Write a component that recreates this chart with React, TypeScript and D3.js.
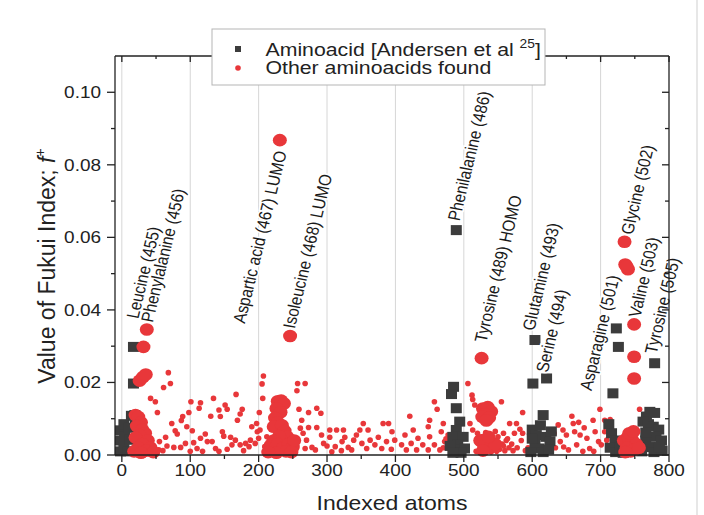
import React, { useEffect } from 'react';
import * as d3 from 'd3';

// [atom index, Fukui f+]
const refAtoms: [number, number][] = [
  [-2, 0.001], [-2, 0.004], [-2, 0.0068], [3, 0.0085], [4, 0.005], [3, 0.0022], [9, 0.001], [10, 0.0075],
  [14, 0.0108], [19, 0.011], [20, 0.0082], [12, 0.0042], [17, 0.0197], [17, 0.0298],
  [489, 0.062], [485, 0.0188], [482, 0.0168], [489, 0.0129], [494, 0.0092], [489, 0.0069], [484, 0.005],
  [499, 0.005], [491, 0.0028], [501, 0.0018], [486, 0.0014], [480, 0.0025], [496, 0.0006], [484, 0.0006],
  [604, 0.0317], [601, 0.0197], [621, 0.0211], [616, 0.011], [600, 0.007], [606, 0.0055], [612, 0.0082],
  [620, 0.005], [626, 0.0038], [604, 0.003], [610, 0.0018], [598, 0.0008], [616, 0.0008], [624, 0.0015],
  [628, 0.0065], [600, 0.0045],
  [723, 0.0349], [726, 0.0298], [718, 0.017], [779, 0.0253], [772, 0.0119], [779, 0.0116], [767, 0.0106],
  [712, 0.0085], [716, 0.006], [721, 0.004], [714, 0.002], [722, 0.0008], [729, 0.002], [733, 0.0006],
  [762, 0.0092], [770, 0.0085], [777, 0.0078], [785, 0.007], [781, 0.005], [789, 0.004], [766, 0.004],
  [772, 0.0022], [778, 0.0008], [790, 0.0012], [760, 0.001], [766, 0.0062], [786, 0.0022],
];

const otherAtoms: [number, number][] = [
  [68, 0.0227], [71, 0.0197], [61, 0.0186], [42, 0.0156], [49, 0.0147], [52, 0.0117], [101, 0.0147],
  [115, 0.0144], [113, 0.0129], [134, 0.0156], [167, 0.0167], [142, 0.0124], [151, 0.0138], [154, 0.0126],
  [130, 0.0107], [144, 0.0106], [176, 0.0126], [173, 0.0113], [169, 0.0096], [98, 0.0117], [89, 0.0106],
  [87, 0.0095], [73, 0.0087], [95, 0.0078], [78, 0.0067], [103, 0.0067], [81, 0.0058], [64, 0.0049],
  [55, 0.0037], [66, 0.0025], [76, 0.0021], [86, 0.0021], [93, 0.0032], [105, 0.0034], [110, 0.0018],
  [122, 0.0058], [125, 0.0037], [132, 0.0037], [115, 0.0046], [137, 0.0018], [147, 0.0064], [149, 0.0052],
  [159, 0.0049], [161, 0.0028], [154, 0.0016], [166, 0.0041], [173, 0.0028], [181, 0.0032], [186, 0.0023],
  [190, 0.0078], [188, 0.0041], [195, 0.0032], [54, 0.0014], [48, 0.0009], [198, 0.0064],
  [118, 0.001], [142, 0.001], [178, 0.0012], [100, 0.001], [60, 0.0012],
  [207, 0.0218], [205, 0.0196], [206, 0.0156], [201, 0.0117], [197, 0.0087], [202, 0.0069], [200, 0.0046],
  [212, 0.005], [209, 0.0023], [257, 0.0197], [268, 0.0197], [256, 0.0177], [259, 0.0126], [273, 0.0117],
  [285, 0.0129], [291, 0.0115], [263, 0.0096], [261, 0.0074], [273, 0.0076], [285, 0.0076], [265, 0.006],
  [270, 0.0041], [268, 0.0018], [278, 0.0021], [283, 0.0014], [292, 0.0055], [295, 0.0032], [304, 0.0069],
  [314, 0.0069], [324, 0.0069], [304, 0.0049], [300, 0.0025], [312, 0.0023], [322, 0.0037], [326, 0.0049],
  [331, 0.0021], [339, 0.0041], [343, 0.0055], [348, 0.0069], [353, 0.0087], [360, 0.0069], [351, 0.0032],
  [363, 0.0041], [358, 0.0018], [370, 0.0028], [375, 0.0049], [382, 0.0087], [390, 0.0087], [387, 0.0037],
  [395, 0.0064], [399, 0.0041], [380, 0.0018], [394, 0.0016], [321, 0.0012], [336, 0.0014], [307, 0.0009],
  [506, 0.0197], [512, 0.0165], [513, 0.0153], [516, 0.0138], [509, 0.0087], [513, 0.0069], [555, 0.0147],
  [586, 0.0117], [567, 0.0087], [577, 0.0087], [582, 0.0071], [574, 0.006], [421, 0.0107], [457, 0.0147],
  [461, 0.0126], [450, 0.0096], [470, 0.0087], [448, 0.0078], [426, 0.0069], [414, 0.0055], [467, 0.0064],
  [450, 0.005], [433, 0.0046], [423, 0.0032], [409, 0.0028], [440, 0.0028], [457, 0.0028], [472, 0.0037],
  [465, 0.0014], [431, 0.0014], [448, 0.0014], [416, 0.0014], [477, 0.0055],
  [520, 0.006], [526, 0.005], [532, 0.0062], [538, 0.005], [544, 0.0042], [550, 0.005], [556, 0.003],
  [562, 0.004], [522, 0.003], [530, 0.002], [536, 0.0032], [542, 0.002], [548, 0.001], [528, 0.0008],
  [540, 0.0008], [552, 0.0015], [560, 0.0012], [566, 0.002], [518, 0.001], [534, 0.004], [546, 0.0065],
  [558, 0.006], [570, 0.003], [578, 0.002], [584, 0.004], [564, 0.0045], [590, 0.0012], [572, 0.0012],
  [558, 0.0025], [470, 0.002], [474, 0.0045], [586, 0.006], [594, 0.002],
  [699, 0.0126], [689, 0.0096], [706, 0.0096], [714, 0.0098], [658, 0.0107], [660, 0.0087], [662, 0.0064],
  [638, 0.0083], [645, 0.0069], [650, 0.0055], [670, 0.0055], [680, 0.0046], [692, 0.0064], [697, 0.0037],
  [701, 0.0028], [684, 0.0018], [665, 0.0028], [653, 0.0014], [641, 0.0037], [757, 0.0126], [706, 0.0064],
  [709, 0.0041], [628, 0.004], [634, 0.002], [632, 0.006], [674, 0.001], [690, 0.001], [646, 0.0022],
  [676, 0.0075], [668, 0.009],
];

const highlightAtoms: [number, number][] = [
  [36.5, 0.0346], [31.6, 0.0298], [26, 0.0205], [31, 0.0215], [35, 0.0222],
  [20, 0.011], [24, 0.0105], [28, 0.009], [22, 0.008], [30, 0.007], [34, 0.006], [26, 0.0055], [20, 0.0048],
  [38, 0.004], [30, 0.003], [24, 0.002], [42, 0.002], [36, 0.0012], [18, 0.001], [46, 0.0008], [28, 0.0006],
  [231, 0.0868], [246, 0.0328],
  [228, 0.0148], [233, 0.015], [237, 0.0142], [226, 0.0128], [232, 0.0118], [224, 0.0102], [228, 0.009],
  [222, 0.0078], [234, 0.0082], [238, 0.0066], [242, 0.005], [230, 0.0052], [222, 0.004], [218, 0.0028],
  [228, 0.003], [236, 0.002], [244, 0.003], [250, 0.0022], [252, 0.004], [240, 0.001], [226, 0.0006],
  [214, 0.0008], [248, 0.0008],
  [526, 0.0267], [528, 0.0128], [535, 0.0132], [540, 0.012], [531, 0.0112], [527, 0.0105], [537, 0.0103],
  [533, 0.0095], [524, 0.004], [532, 0.003], [540, 0.0022], [528, 0.0012], [546, 0.003], [536, 0.005],
  [735, 0.0588], [736, 0.0525], [740, 0.0512], [738, 0.052], [749, 0.036], [749, 0.0271], [749, 0.0211],
  [734, 0.004], [740, 0.005], [746, 0.0042], [752, 0.003], [738, 0.002], [744, 0.001], [750, 0.0015],
  [756, 0.002], [742, 0.006], [748, 0.0065], [736, 0.0008],
];

const labels: { text: string; atom: number; value: number }[] = [
  { text: 'Leucine (455)', atom: 15, value: 0.0377 },
  { text: 'Phenylalanine (456)', atom: 36.5, value: 0.0367 },
  { text: 'Aspartic acid (467) LUMO', atom: 171, value: 0.0364 },
  { text: 'Isoleucine (468) LUMO', atom: 244, value: 0.035 },
  { text: 'Phenilalanine (486)', atom: 485, value: 0.0647 },
  { text: 'Tyrosine (489) HOMO', atom: 524, value: 0.0312 },
  { text: 'Glutamine (493)', atom: 594, value: 0.0344 },
  { text: 'Serine (494)', atom: 614, value: 0.0229 },
  { text: 'Asparagine (501)', atom: 678, value: 0.0179 },
  { text: 'Glycine (502)', atom: 738, value: 0.0609 },
  { text: 'Valine (503)', atom: 749, value: 0.0381 },
  { text: 'Tyrosine (505)', atom: 773, value: 0.028 },
];

const xTicks = [0, 100, 200, 300, 400, 500, 600, 700, 800];
const xMinor = [50, 150, 250, 350, 450, 550, 650, 750];
const yTicks = [0, 0.02, 0.04, 0.06, 0.08, 0.1];
const yMinor = [0.01, 0.03, 0.05, 0.07, 0.09];

const FONT = '"Liberation Sans", Arial, sans-serif';
const RED = '#e8373a';
const GRAY = '#3c3c3c';
const SX = 1.15; // the picture is slightly wider than tall

const T = ({ x, y, rotate = 0, sx = SX, children, ...rest }: any) => (
  <text
    transform={`translate(${x},${y}) scale(${sx},1)${rotate ? ` rotate(${rotate})` : ''}`}
    fontFamily={FONT}
    {...rest}
  >
    {children}
  </text>
);

export default function App() {
  useEffect(() => {
    document.body.style.margin = '0';
  }, []);

  const x = d3.scaleLinear().domain([-10, 800]).range([115, 669]);
  const y = d3.scaleLinear().domain([0, 0.11]).range([455, 56]);
  const [x0, x1] = x.range();
  const [y0, y1] = y.range();
  const fmt = d3.format('.2f');

  return (
    <svg width={704} height={515} style={{ display: 'block', background: '#fff' }}>
      <line x1={697} x2={697} y1={0} y2={515} stroke="#cfcfcf" />

      {/* grid */}
      {xTicks.slice(0, -1).map((t) => (
        <line key={t} x1={x(t)} x2={x(t)} y1={y1} y2={y0} stroke="#d6d6d6" strokeWidth={1} />
      ))}

      {/* points */}
      {otherAtoms.map(([a, v], i) => (
        <circle key={'o' + i} cx={x(a)} cy={y(v)} r={2.8} fill={RED} />
      ))}
      {refAtoms.map(([a, v], i) => (
        <rect key={'r' + i} x={x(a) - 5.5} y={y(v) - 5} width={11} height={10} fill={GRAY} />
      ))}
      {highlightAtoms.map(([a, v], i) => (
        <ellipse key={'h' + i} cx={x(a)} cy={y(v)} rx={7} ry={6.3} fill={RED} />
      ))}

      {/* annotations */}
      {labels.map((l) => (
        <T
          key={l.text}
          x={x(l.atom)}
          y={y(l.value)}
          rotate={-78}
          dy="0.35em"
          fontSize={15.3}
          fill="#1a1a1a"
          stroke="#fff"
          strokeWidth={3}
          paintOrder="stroke"
        >
          {l.text}
        </T>
      ))}

      {/* axes frame */}
      <g stroke="#222" strokeWidth={1.3} fill="none">
        <line x1={x0} x2={x1} y1={y0} y2={y0} />
        <line x1={x0} x2={x1} y1={y1} y2={y1} />
        <line x1={x0} x2={x0} y1={y0} y2={y1} />
        <line x1={x1} x2={x1} y1={y0} y2={y1} />
        {xTicks.map((t) => (
          <g key={'xt' + t}>
            <line x1={x(t)} x2={x(t)} y1={y0} y2={y0 + 7} />
            <line x1={x(t)} x2={x(t)} y1={y1} y2={y1 + 6} />
          </g>
        ))}
        {xMinor.map((t) => (
          <g key={'xm' + t}>
            <line x1={x(t)} x2={x(t)} y1={y0} y2={y0 + 4} />
            <line x1={x(t)} x2={x(t)} y1={y1} y2={y1 + 3} />
          </g>
        ))}
        {yTicks.map((t) => (
          <g key={'yt' + t}>
            <line x1={x0 - 8} x2={x0} y1={y(t)} y2={y(t)} />
            <line x1={x1 - 7} x2={x1} y1={y(t)} y2={y(t)} />
          </g>
        ))}
        {yMinor.map((t) => (
          <g key={'ym' + t}>
            <line x1={x0 - 4} x2={x0} y1={y(t)} y2={y(t)} />
            <line x1={x1 - 4} x2={x1} y1={y(t)} y2={y(t)} />
          </g>
        ))}
      </g>

      {/* tick labels */}
      {yTicks.map((t) => (
        <T key={'yl' + t} x={101} y={y(t)} dy="0.35em" textAnchor="end" fontSize={16.5} fill="#222">
          {fmt(t)}
        </T>
      ))}
      {xTicks.map((t) => (
        <T key={'xl' + t} x={x(t)} y={476} textAnchor="middle" fontSize={16.5} fill="#222">
          {t}
        </T>
      ))}

      {/* axis titles */}
      <T x={392} y={510} textAnchor="middle" fontSize={20} fill="#222">
        Indexed atoms
      </T>
      <T x={55} y={266} sx={1} rotate={-90} textAnchor="middle" fontSize={23} fill="#222">
        Value of Fukui Index;{' '}
        <tspan fontStyle="italic">f</tspan>
        <tspan fontSize={14} dy="-0.75em">+</tspan>
      </T>

      {/* legend */}
      <rect x={212} y={29} width={333} height={56} fill="#fff" stroke="#b5b5b5" strokeWidth={1} />
      <rect x={235} y={46} width={6} height={6} fill={GRAY} />
      <circle cx={238} cy={68} r={2.8} fill={RED} />
      <T x={231} y={55.5} fontSize={18.5} fill="#222" dx={30}>
        Aminoacid [Andersen et al <tspan fontSize={12} dy="-0.65em">25</tspan>
        <tspan dy="0.45em" fontSize={18.5}>]</tspan>
      </T>
      <T x={231} y={74} fontSize={18.5} fill="#222" dx={30}>
        Other aminoacids found
      </T>
    </svg>
  );
}
